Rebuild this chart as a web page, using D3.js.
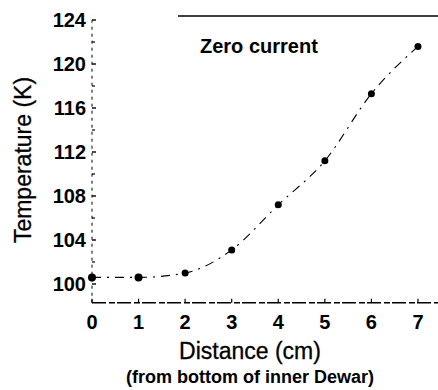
<!DOCTYPE html>
<html>
<head>
<meta charset="utf-8">
<script src="https://cdn.jsdelivr.net/npm/d3@7"></script>
<style>
  html, body { margin: 0; padding: 0; background: #fff; }
  svg { display: block; }
  text { font-family: "Liberation Sans", Arial, Helvetica, sans-serif; fill: #000; }
</style>
</head>
<body>
<svg id="chart" width="438" height="390"></svg>
<script>
// Temperature profile along the inner Dewar, zero current
const distances = [0, 1, 2, 3, 4, 5, 6, 7];               // cm from bottom
const temperatures = [100.6, 100.6, 101.0, 103.1, 107.2, 111.2, 117.3, 121.6]; // K
const xTicks = [0, 1, 2, 3, 4, 5, 6, 7];
const yTicks = [100, 104, 108, 112, 116, 120, 124];
const yMinorTicks = [102, 106, 110, 114, 118, 122];
const seriesLabel = "Zero current";
const xTitle = "Distance (cm)";
const xSubtitle = "(from bottom of inner Dewar)";
const yTitle = "Temperature (K)";

const svg = d3.select("#chart");

const x = d3.scaleLinear().domain([0, 7.43]).range([92, 438]);
const y = d3.scaleLinear().domain([100, 124]).range([284, 20]);
const yBottom = y(98.3);

// x axis
const gx = svg.append("g").attr("transform", `translate(0,${yBottom})`);
gx.append("line")
  .attr("x1", x(0)).attr("x2", x.range()[1])
  .attr("stroke", "#000").attr("stroke-width", 1.4)
  .attr("stroke-dasharray", "14,3,6,2");
gx.selectAll("line.tick").data(xTicks).join("line")
  .attr("class", "tick")
  .attr("x1", d => x(d)).attr("x2", d => x(d))
  .attr("y1", 0).attr("y2", -4)
  .attr("stroke", "#000").attr("stroke-width", 1.2);
gx.selectAll("text").data(xTicks).join("text")
  .attr("x", d => x(d)).attr("y", 26)
  .attr("text-anchor", "middle")
  .attr("font-size", 20).attr("font-weight", "bold")
  .text(d => d);

// y axis
const gy = svg.append("g").attr("transform", `translate(${x(0)},0)`);
gy.append("line")
  .attr("y1", yBottom).attr("y2", y(124))
  .attr("stroke", "#000").attr("stroke-width", 1)
  .attr("stroke-dasharray", "3,4");
gy.selectAll("line.major").data(yTicks).join("line")
  .attr("class", "major")
  .attr("x1", 0).attr("x2", 4)
  .attr("y1", d => y(d)).attr("y2", d => y(d))
  .attr("stroke", "#000").attr("stroke-width", 1.4);
gy.selectAll("line.minor").data(yMinorTicks).join("line")
  .attr("class", "minor")
  .attr("x1", 0).attr("x2", 3)
  .attr("y1", d => y(d)).attr("y2", d => y(d))
  .attr("stroke", "#000").attr("stroke-width", 1.2);
gy.selectAll("text").data(yTicks).join("text")
  .attr("x", -6).attr("y", d => y(d))
  .attr("dy", "0.36em")
  .attr("text-anchor", "end")
  .attr("font-size", 20).attr("font-weight", "bold")
  .text(d => d);

// top rule
svg.append("line")
  .attr("x1", 178).attr("x2", 438)
  .attr("y1", 16).attr("y2", 16)
  .attr("stroke", "#000").attr("stroke-width", 1.5);

// fitted curve through the readings
const pts = distances.map((d, i) => [d, temperatures[i]]);
const line = d3.line()
  .x(d => x(d[0])).y(d => y(d[1]))
  .curve(d3.curveMonotoneX);
svg.append("path")
  .attr("d", line(pts))
  .attr("fill", "none")
  .attr("stroke", "#000").attr("stroke-width", 1.1)
  .attr("stroke-dasharray", "9,6,2,6");

// readings
svg.selectAll("circle").data(pts).join("circle")
  .attr("cx", d => x(d[0])).attr("cy", d => y(d[1]))
  .attr("r", (d, i) => i < 2 ? 4 : 3.5)
  .attr("fill", "#000");

// series label
svg.append("text")
  .attr("x", 200).attr("y", 53)
  .attr("font-size", 20).attr("font-weight", "bold")
  .text(seriesLabel);

// axis titles
svg.append("text")
  .attr("transform", `translate(31,${160}) rotate(-90)`)
  .attr("text-anchor", "middle")
  .attr("font-size", 23)
  .attr("stroke", "#000").attr("stroke-width", 0.3)
  .text(yTitle);
svg.append("text")
  .attr("x", 250).attr("y", 359)
  .attr("text-anchor", "middle")
  .attr("font-size", 23)
  .attr("stroke", "#000").attr("stroke-width", 0.3)
  .text(xTitle);
svg.append("text")
  .attr("x", 250).attr("y", 383)
  .attr("text-anchor", "middle")
  .attr("font-size", 18).attr("font-weight", "bold")
  .text(xSubtitle);
</script>
</body>
</html>
